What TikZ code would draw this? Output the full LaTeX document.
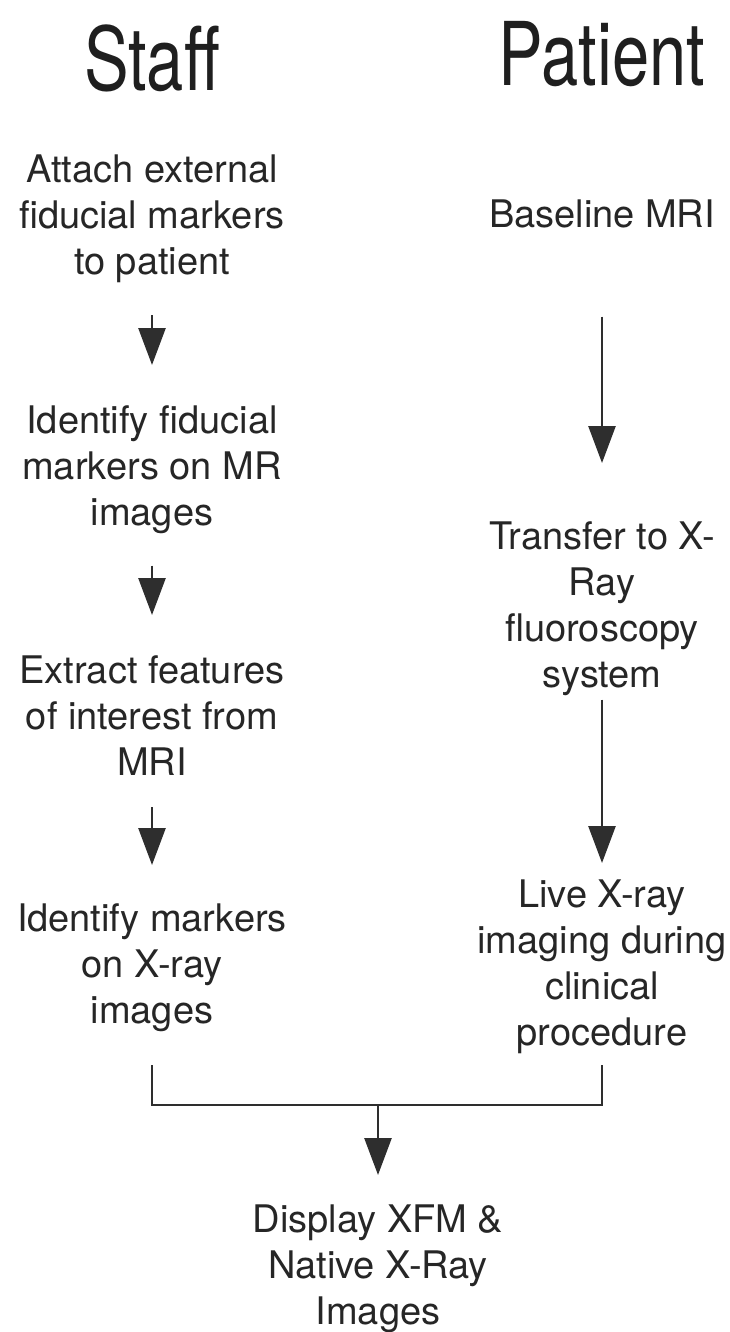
\documentclass[tikz,border=0pt]{standalone}
\usepackage{fontspec}
\setmainfont{TeX Gyre Heros}
\usetikzlibrary{arrows.meta}
\newcommand{\ttlbox}[1]{\scalebox{0.76}[1]{\fontsize{88}{92}\selectfont #1}}
\begin{document}
\begin{tikzpicture}[x=1pt,y=-1pt,
  title/.style={inner sep=0pt,anchor=north,text=black!88},
  body/.style={inner sep=0pt,anchor=north,align=center,font=\fontsize{38}{46}\selectfont,text=black!85},
  conn/.style={line width=2.6pt,draw=black!82},
  arr/.style={conn,-{Triangle[width=27pt,length=37pt]}}]
\useasboundingbox[fill=white] (0,0) rectangle (729,1332);
% titles
\node[title] (staff) at (152,25) {\ttlbox{Staff}};
\node[title] (patient) at (602,21) {\ttlbox{Patient}};
% left column
\node[body] (attach) at (152,155) {Attach external\\fiducial markers\\to patient};
\node[body] (idfid) at (152,405) {Identify fiducial\\markers on MR\\images};
\node[body] (extract) at (152,655) {Extract features\\of interest from\\MRI};
\node[body] (idmark) at (152,903) {Identify markers\\on X-ray\\images};
% right column
\node[body] (baseline) at (602,200) {Baseline MRI};
\node[body] (transfer) at (602,521) {Transfer to X-\\Ray\\fluoroscopy\\system};
\node[body] (live) at (602,880) {Live X-ray\\imaging during\\clinical\\procedure};
% bottom
\node[body] (display) at (378,1205) {Display XFM \&\\Native X-Ray\\Images};
% connectors
\draw[arr,shorten <=32pt,shorten >=40pt] (attach.south) -- (idfid.north);
\draw[arr,shorten <=32pt,shorten >=40pt] (idfid.south) -- (extract.north);
\draw[arr,shorten <=32pt,shorten >=38pt] (extract.south) -- (idmark.north);
\draw[arr,shorten <=88pt,shorten >=58pt] (baseline.south) -- (transfer.north);
\draw[arr,shorten <=4pt,shorten >=17pt] (transfer.south) -- (live.north);
\coordinate (jl) at (152,1066);
\coordinate (jr) at (602,1066);
\coordinate (bl) at (152,1105);
\coordinate (br) at (602,1105);
\coordinate (bm) at (378,1105);
\draw[conn,line cap=rect] (jl) -- (bl) -- (br) -- (jr);
\draw[arr,shorten >=30pt] (bm) -- (display.north);
\end{tikzpicture}
\end{document}
